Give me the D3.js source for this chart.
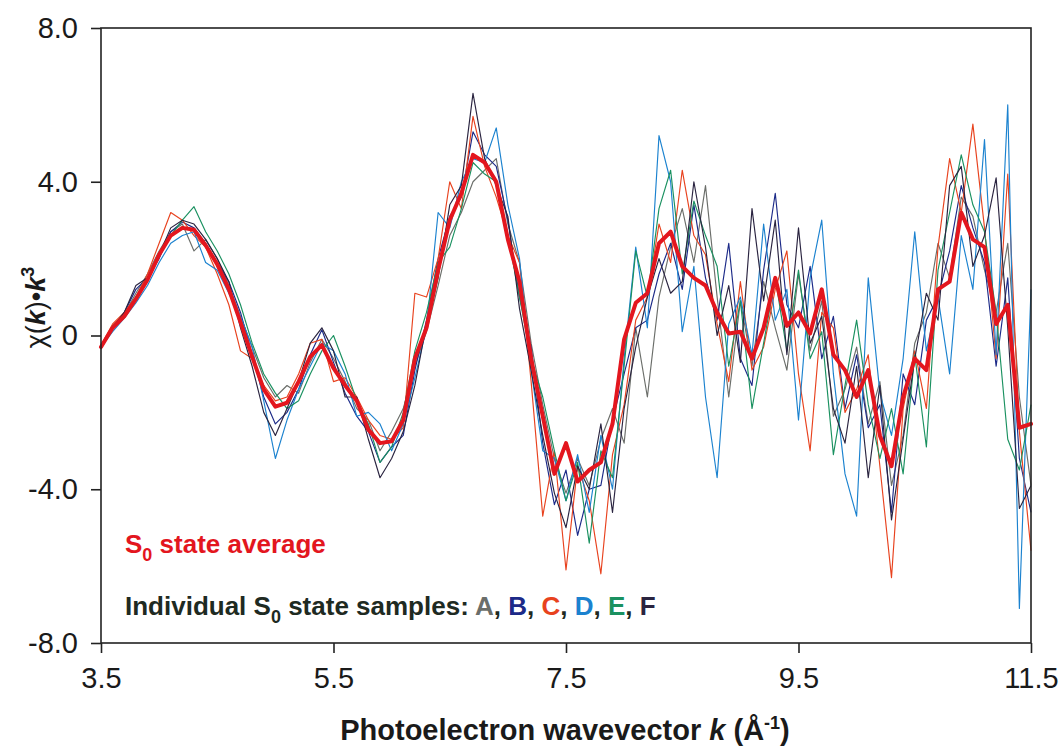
<!DOCTYPE html>
<html>
<head>
<meta charset="utf-8">
<script src="https://cdn.jsdelivr.net/npm/d3@7"></script>
<style>
  body { margin: 0; background: #fff; }
  text { font-family: "Liberation Sans", Arial, Helvetica, sans-serif; }
</style>
</head>
<body>
<svg id="chart"></svg>
<script>
// photoelectron wavevector grid (1/Å)
var kValues = [3.5, 3.6, 3.7, 3.8, 3.9, 4.0, 4.1, 4.2, 4.3, 4.4,
  4.5, 4.6, 4.7, 4.8, 4.9, 5.0, 5.1, 5.2, 5.3, 5.4,
  5.5, 5.6, 5.7, 5.8, 5.9, 6.0, 6.1, 6.2, 6.3, 6.4,
  6.5, 6.6, 6.7, 6.8, 6.9, 7.0, 7.1, 7.2, 7.3, 7.4,
  7.5, 7.6, 7.7, 7.8, 7.9, 8.0, 8.1, 8.2, 8.3, 8.4,
  8.5, 8.6, 8.7, 8.8, 8.9, 9.0, 9.1, 9.2, 9.3, 9.4,
  9.5, 9.6, 9.7, 9.8, 9.9, 10.0, 10.1, 10.2, 10.3, 10.4,
  10.5, 10.6, 10.7, 10.8, 10.9, 11.0, 11.1, 11.2, 11.3, 11.4, 11.5];

// individual samples A..F
var sampleA = [-0.3, 0.25, 0.55, 1.1, 1.6, 2.2, 2.7, 2.9, 2.2, 2.5,
  2.0, 1.3, 0.5, -0.3, -1.1, -1.6, -1.3, -1.5, -0.7, -0.1,
  -0.6, -1.2, -1.9, -2.2, -3.0, -2.5, -1.9, -0.8, 0.1, 1.3,
  2.6, 3.2, 4.0, 4.3, 4.6, 2.9, 1.9, -0.2, -1.8, -3.2,
  -4.1, -3.2, -3.9, -2.7, -1.9, -2.8, 0.2, -1.6, 1.0, 2.3,
  3.3, 1.9, 3.9, 1.0, -1.6, 0.9, -0.8, 1.4, 0.2, -0.9,
  1.6, -0.4, 0.9, -2.1, -1.4, -0.3, -2.3, -1.2, -3.9, -2.6,
  -0.2, 0.6, 2.4, 1.5, 3.6, 3.1, 1.7, 0.6, 2.4, -1.6, -3.9];

var sampleB = [-0.35, 0.2, 0.6, 1.2, 1.5, 2.0, 2.7, 2.95, 2.8, 2.4,
  1.9, 1.4, 0.6, -0.5, -1.6, -2.3, -2.0, -1.4, -0.5, 0.15,
  -0.7, -1.5, -2.1, -2.5, -3.3, -2.9, -2.6, -0.9, 0.4, 2.0,
  3.1, 3.6, 5.3, 4.7, 4.4, 3.0, 1.0, -0.3, -2.8, -4.4,
  -3.5, -5.2, -4.0, -3.9, -2.2, -1.0, 0.2, 0.4, 1.6, 2.4,
  1.2, 3.4, 1.5, 0.4, 2.4, -0.6, -1.3, 1.7, 3.7, 0.8,
  0.2, 1.8, -0.6, 0.5, -1.9, -0.5, -2.4, -1.8, -4.6, -1.0,
  -1.8, 0.4, 1.0, 2.2, 3.9, 2.8, 1.9, -0.8, 1.5, -3.2, -4.6];

var sampleC = [-0.25, 0.3, 0.6, 1.0, 1.6, 2.4, 3.2, 3.0, 2.6, 2.3,
  1.6, 0.8, -0.4, -0.6, -1.3, -1.7, -1.6, -1.0, -0.2, -0.1,
  -1.2, -1.1, -1.6, -2.2, -2.6, -2.7, -2.4, 1.1, 1.0, 2.0,
  4.0, 3.3, 5.7, 4.4, 3.6, 2.6, 1.9, -1.2, -4.7, -3.0,
  -6.1, -3.4, -4.3, -6.2, -3.1, -1.8, 0.4, 1.0, 2.9, 1.9,
  4.3, 2.6, 2.1, 0.3, -1.2, 1.4, -0.9, -0.3, 1.2, 2.2,
  -1.0, -3.0, 0.6, 0.2, -2.0, -1.4, -0.5, -3.4, -6.3, -1.9,
  -0.4, -1.9, 2.3, 4.6, 3.2, 5.5, 2.8, -0.6, 4.2, -2.5, -5.6];

var sampleD = [-0.3, 0.1, 0.45, 0.85, 1.3, 1.9, 2.4, 2.6, 2.7, 1.9,
  1.7, 1.1, 0.5, -0.3, -1.7, -3.2, -2.2, -1.4, -0.8, -0.2,
  -0.4, -1.0, -2.1, -2.0, -2.3, -3.0, -2.3, -1.1, 0.2, 3.2,
  2.8, 4.0, 4.6, 4.5, 5.4, 3.4, 2.0, -0.9, -3.0, -3.2,
  -4.3, -3.1, -4.6, -2.6, -4.0, -0.6, 2.3, 0.2, 5.2, 4.0,
  0.1, 1.8, -1.6, -3.7, 0.3, 1.0, -0.5, 2.9, 0.4, 1.2,
  -2.2, 1.5, 3.0, -1.0, -3.6, -4.7, 1.5, -1.5, -2.6, -0.6,
  2.7, -0.4, 1.0, -1.0, 2.6, 1.2, 5.1, -0.5, 6.0, -7.1, 1.2];

var sampleE = [-0.3, 0.25, 0.5, 1.0, 1.5, 2.1, 2.6, 3.0, 3.35, 2.7,
  2.2, 1.6, 0.8, -0.2, -1.0, -1.5, -1.9, -1.7, -1.0, -0.4,
  0.0, -0.8, -1.7, -2.3, -3.3, -2.9, -2.0, -0.4, 0.6, 1.9,
  2.3, 3.3, 4.5, 4.2, 4.0, 2.6, 1.0, -0.6, -1.6, -3.0,
  -4.3, -3.3, -5.4, -3.0, -3.7, -0.8, 2.2, 1.0, 3.3, 4.3,
  1.6, 3.5, 2.6, 1.8, -0.8, 0.9, -1.9, -0.2, 1.5, -0.4,
  1.7, -0.6, 0.1, -3.1, -1.3, 0.4, -1.8, -3.2, -1.9, -3.6,
  -0.5, -2.9, 1.7, 3.2, 4.7, 3.4, 2.7, 0.6, -2.7, -3.5, -1.8];

var sampleF = [-0.3, 0.2, 0.6, 1.3, 1.5, 2.1, 2.8, 3.0, 2.9, 2.5,
  2.0, 1.4, 0.2, -0.8, -2.0, -2.6, -1.9, -1.2, -0.2, 0.2,
  -0.4, -1.6, -1.6, -2.7, -3.7, -3.2, -2.5, -1.3, 0.3, 1.5,
  3.4, 3.9, 6.3, 4.6, 3.9, 3.1, 0.7, -0.9, -2.6, -4.1,
  -5.0, -3.4, -4.0, -2.3, -4.6, -1.9, -0.3, 1.0, 2.0, 1.1,
  1.4, 4.0, 2.3, 0.0, 1.3, -0.7, 3.3, 0.9, 3.0, -0.5,
  2.8, -0.2, 0.5, -1.9, -2.8, -0.8, -3.7, -1.3, -4.8, -2.7,
  -0.6, 1.1, 0.4, 3.9, 4.4, 1.8, 2.6, 4.1, 0.2, -4.5, -3.9];

// S0 state average
var averageValues = [-0.3, 0.2, 0.5, 0.95, 1.45, 2.1, 2.6, 2.8, 2.75, 2.35,
  1.85, 1.2, 0.35, -0.55, -1.4, -1.85, -1.75, -1.2, -0.55, -0.25,
  -0.85, -1.3, -1.7, -2.45, -2.8, -2.75, -2.2, -0.6, 0.2, 1.7,
  3.0, 3.7, 4.7, 4.5, 4.0, 2.5, 1.4, -0.6, -2.1, -3.6,
  -2.8, -3.8, -3.5, -3.3, -2.3, -0.1, 0.85, 1.1, 2.4, 2.7,
  1.8, 1.5, 1.3, 0.6, 0.05, 0.1, -0.6, 0.2, 1.5, 0.25,
  0.6, 0.05, 1.2, -0.5, -0.9, -1.6, -0.9, -2.6, -3.4, -1.6,
  -0.6, -0.9, 1.2, 1.4, 3.2, 2.5, 2.3, 0.3, 0.8, -2.4, -2.3];

var sampleNames = ["A", "B", "C", "D", "E", "F"];
var sampleColors = ["#6b6e6a", "#1c2a88", "#e8421e", "#1b82cf", "#1a9160", "#2a2440"];
var sampleSeries = [sampleA, sampleB, sampleC, sampleD, sampleE, sampleF];

var xTicks = [3.5, 5.5, 7.5, 9.5, 11.5];
var yTicks = [-8, -4, 0, 4, 8];

var screen = { width: 1059, height: 752 };
var margins = { top: 28, bottom: 109, left: 101, right: 28 };
var graph = {
  width: screen.width - margins.left - margins.right,
  height: screen.height - margins.top - margins.bottom
};

var svg = d3.select("#chart").attr("width", screen.width).attr("height", screen.height);

var xScale = d3.scaleLinear().domain([3.5, 11.5]).range([0, graph.width]);
var yScale = d3.scaleLinear().domain([-8, 8]).range([graph.height, 0]);

var g = svg.append("g")
  .classed("graph", true)
  .attr("transform", "translate(" + margins.left + "," + margins.top + ")");

var line = d3.line()
  .x(function (d, i) { return xScale(kValues[i]); })
  .y(function (d) { return yScale(d); });

// individual samples
g.selectAll(".sample")
  .data(sampleSeries)
  .enter()
  .append("path")
  .classed("sample", true)
  .attr("d", line)
  .attr("fill", "none")
  .attr("stroke", function (d, i) { return sampleColors[i]; })
  .attr("stroke-width", 1.15)
  .attr("stroke-linejoin", "round");

// average on top
g.append("path")
  .attr("d", line(averageValues))
  .attr("fill", "none")
  .attr("stroke", "#e3161e")
  .attr("stroke-width", 4)
  .attr("stroke-linejoin", "round")
  .attr("stroke-linecap", "round");

// frame and axes
g.append("rect")
  .attr("width", graph.width)
  .attr("height", graph.height)
  .attr("fill", "none")
  .attr("stroke", "#222")
  .attr("stroke-width", 1.6);

// plain hyphen for negatives, like the original
var fmt = function (d) {
  return d === 0 ? "0" : d3.format(".1f")(d).replace("\u2212", "-");
};

var yAxis = d3.axisLeft(yScale)
  .tickValues(yTicks)
  .tickSize(10)
  .tickPadding(13)
  .tickFormat(fmt);

var xAxis = d3.axisBottom(xScale)
  .tickValues(xTicks)
  .tickSize(10)
  .tickPadding(14)
  .tickFormat(fmt);

var yGroup = g.append("g").call(yAxis);
var xGroup = g.append("g").attr("transform", "translate(0," + graph.height + ")").call(xAxis);

[yGroup, xGroup].forEach(function (ax) {
  ax.select(".domain").remove();
  ax.selectAll("line").attr("stroke", "#222").attr("stroke-width", 1.6);
  ax.selectAll("text")
    .attr("fill", "#1a1a1a")
    .style("font-size", "29px")
    .style("font-family", "'Liberation Sans', Arial, sans-serif");
});

// axis titles
var xTitle = svg.append("text")
  .attr("x", 565)
  .attr("y", 740)
  .attr("text-anchor", "middle")
  .attr("fill", "#1a1a1a")
  .style("font-size", "29px")
  .style("font-weight", "bold");
xTitle.append("tspan").text("Photoelectron wavevector ");
xTitle.append("tspan").style("font-style", "italic").text("k");
xTitle.append("tspan").text(" (Å");
xTitle.append("tspan").attr("dy", -11).style("font-size", "18px").text("-1");
xTitle.append("tspan").attr("dy", 11).text(")");

var yTitle = svg.append("text")
  .attr("transform", "translate(45," + yScale(0) + ") rotate(-90)")
  .attr("text-anchor", "middle")
  .attr("fill", "#1a1a1a")
  .style("font-size", "27px");
yTitle.append("tspan").text("χ(");
yTitle.append("tspan").style("font-style", "italic").style("font-weight", "bold").text("k");
yTitle.append("tspan").text(")•");
yTitle.append("tspan").style("font-style", "italic").style("font-weight", "bold").text("k");
yTitle.append("tspan").attr("dy", -11).style("font-size", "18px").style("font-weight", "bold").text("3");

// legend text
var avgLabel = svg.append("text")
  .attr("x", 125)
  .attr("y", 553)
  .attr("fill", "#e3161e")
  .style("font-size", "26px")
  .style("font-weight", "bold");
avgLabel.append("tspan").text("S");
avgLabel.append("tspan").attr("dy", 8).style("font-size", "18px").text("0");
avgLabel.append("tspan").attr("dy", -8).text(" state average");

var sampleLabel = svg.append("text")
  .attr("x", 125)
  .attr("y", 615)
  .attr("fill", "#1e2a22")
  .style("font-size", "26px")
  .style("font-weight", "bold");
sampleLabel.append("tspan").text("Individual S");
sampleLabel.append("tspan").attr("dy", 8).style("font-size", "18px").text("0");
sampleLabel.append("tspan").attr("dy", -8).text(" state samples: ");
sampleNames.forEach(function (name, i) {
  sampleLabel.append("tspan").attr("fill", sampleColors[i]).text(name);
  if (i < sampleNames.length - 1) {
    sampleLabel.append("tspan").text(", ");
  }
});
</script>
</body>
</html>
